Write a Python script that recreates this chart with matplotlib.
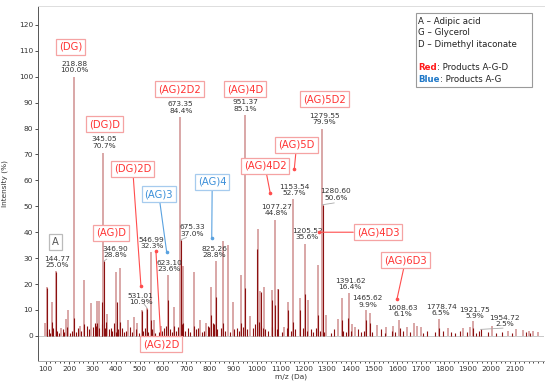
import matplotlib
matplotlib.use("Agg")
import matplotlib.pyplot as plt
from matplotlib.patches import Rectangle

# light (tall) peaks: m/z, intensity (%)
light_mz = [98, 107, 125, 144.77, 165, 185, 196, 218.88, 245, 265,
            292, 320, 327, 345.05, 360, 398, 418, 450, 476, 490,
            509, 531.01, 546.99, 560, 590, 623.10, 647, 673.35, 687, 732,
            757, 784, 803, 825.26, 857, 876, 897, 933, 951.37, 970,
            1004, 1014, 1030, 1064, 1077.27, 1092, 1117, 1135, 1153.54, 1184,
            1205.52, 1220, 1262, 1279.55, 1295, 1348, 1362, 1391.62, 1407, 1420,
            1465.62, 1483, 1511, 1550, 1580, 1608.63, 1640, 1670, 1683, 1700,
            1778.74, 1815, 1880, 1909, 1921.75, 2002, 2070, 2105, 2135, 2160,
            2180, 2200]
light_int = [5.1, 18.7, 13.2, 25.0, 3.0, 6.5, 10.0, 100.0, 4.0, 21.5,
             12.8, 13.5, 13.5, 70.7, 8.5, 24.7, 26.0, 6.0, 7.3, 5.0,
             10.0, 10.9, 32.3, 6.0, 4.0, 23.6, 11.0, 84.4, 27.0, 24.8,
             6.0, 5.0, 18.8, 28.8, 36.8, 35.1, 12.9, 23.3, 85.1, 7.5,
             41.3, 17.3, 19.0, 17.7, 44.8, 18.2, 3.5, 13.2, 52.7, 14.5,
             35.6, 13.9, 27.3, 79.9, 8.0, 6.7, 14.5, 16.4, 4.5, 3.5,
             9.9, 9.0, 4.3, 3.5, 3.8, 6.1, 3.5, 5.0, 4.0, 3.5,
             6.5, 3.0, 3.0, 3.6, 5.9, 4.0, 2.0, 2.5, 2.2, 2.0,
             1.8, 1.5]

# dark peaks
dark_mz = [107, 125, 144.77, 218.88, 265, 320, 338, 346.90, 391, 403,
           418, 509, 531.01, 547, 623, 647, 675.33, 687, 732, 803,
           825, 857, 933, 951.37, 1001, 1019, 1064, 1077, 1092, 1135,
           1153.54, 1184, 1205, 1262, 1280.60, 1362, 1391, 1466, 1483, 1609,
           1779, 1922, 1954.72]
dark_int = [18.3, 5.5, 24.5, 7.0, 4.5, 5.0, 13.0, 28.8, 5.0, 13.0,
            5.5, 9.5, 10.5, 6.0, 14.0, 4.0, 37.0, 5.0, 4.0, 8.0,
            15.0, 5.0, 5.0, 18.5, 33.5, 17.0, 14.0, 12.0, 18.0, 10.0,
            5.5, 10.0, 16.0, 8.0, 50.6, 6.0, 7.0, 6.0, 5.0, 3.0,
            3.0, 3.0, 2.5]

# small peaks near the baseline
grass_mz = [104, 112, 118, 131, 150, 158, 172, 179, 190, 204,
            211, 228, 236, 251, 276, 284, 300, 308, 314, 326,
            338, 352, 357, 368, 377, 384, 399, 407, 426, 434,
            441, 458, 466, 483, 497, 515, 522, 538, 555, 568,
            583, 596, 605, 612, 631, 639, 655, 663, 680, 695,
            705, 716, 741, 749, 766, 775, 793, 798, 815, 818,
            832, 848, 866, 884, 905, 915, 926, 941, 958, 985,
            994, 1010, 1018, 1025, 1033, 1047, 1066, 1085, 1108, 1129,
            1145, 1163, 1196, 1213, 1232, 1240, 1253, 1270, 1288, 1315,
            1330, 1368, 1380, 1400, 1432, 1446, 1458, 1492, 1530, 1545,
            1575, 1590, 1625, 1652, 1710, 1725, 1760, 1795, 1830, 1845,
            1865, 1895, 1935, 1948, 1985, 2020, 2045, 2090, 2150, 2165]
grass_int = [1.5, 2.5, 1.0, 3.0, 2.0, 1.0, 2.5, 1.5, 3.5, 1.0,
             2.0, 1.5, 3.0, 2.0, 4.0, 2.5, 3.5, 5.0, 4.0, 3.0,
             4.5, 3.0, 5.5, 2.5, 3.0, 2.0, 1.5, 2.5, 3.0, 1.5,
             2.0, 3.5, 1.5, 2.5, 1.0, 2.0, 3.0, 1.5, 2.5, 1.0,
             1.5, 2.0, 3.0, 4.0, 2.5, 1.5, 2.0, 3.5, 4.5, 2.0,
             3.0, 1.5, 2.5, 3.0, 1.5, 2.0, 4.0, 3.5, 5.0, 4.5,
             2.5, 3.0, 2.0, 1.5, 2.5, 3.0, 2.0, 3.5, 2.5, 3.0,
             4.5, 5.5, 4.0, 3.0, 2.5, 2.0, 3.5, 2.5, 1.5, 3.0,
             2.0, 2.5, 3.0, 2.0, 2.5, 1.5, 3.0, 2.0, 1.5, 1.0,
             2.5, 2.0, 1.5, 2.0, 2.5, 1.5, 2.0, 1.5, 2.5, 1.0,
             2.0, 1.5, 2.0, 1.5, 1.0, 2.0, 1.5, 2.0, 1.5, 1.0,
             2.0, 1.5, 1.0, 2.0, 1.5, 1.0, 1.5, 1.0, 1.5, 1.0]

# peak value labels: m/z, percent, label centre x, label centre y
lab_mz = ["218.88", "345.05", "673.35", "951.37", "1279.55", "1153.54", "1077.27",
          "1205.52", "1391.62", "1465.62", "1608.63", "1778.74", "1921.75",
          "144.77", "346.90", "546.99", "623.10", "675.33", "825.26", "531.01",
          "1280.60", "1954.72"]
lab_pct = ["100.0%", "70.7%", "84.4%", "85.1%", "79.9%", "52.7%", "44.8%",
           "35.6%", "16.4%", "9.9%", "6.1%", "6.5%", "5.9%",
           "25.0%", "28.8%", "32.3%", "23.6%", "37.0%", "28.8%", "10.9%",
           "50.6%", "2.5%"]
lab_x = [224, 349, 676, 953, 1288, 1159, 1085,
         1216, 1398, 1473, 1623, 1786, 1929,
         150, 395, 552, 627, 724, 819, 505,
         1338, 2058]
lab_y = [103.8, 74.6, 88.1, 88.9, 83.6, 56.4, 48.5,
         39.2, 20.1, 13.3, 9.6, 10.1, 8.9,
         28.6, 32.3, 35.9, 27.1, 40.7, 32.3, 14.2,
         54.6, 5.8]

# product boxes: text, colour group, box centre, arrow end (None = no arrow)
box_txt = ["(DG)", "(DG)D", "(DG)2D", "(AG)2D2", "(AG)4D", "(AG)3", "(AG)4",
           "(AG)4D2", "(AG)5D", "(AG)5D2", "(AG)4D3", "(AG)6D3", "(AG)D",
           "(AG)2D", "A"]
box_grp = ["r", "r", "r", "r", "r", "b", "b", "r", "r", "r", "r", "r", "r", "r", "g"]
box_x = [207, 351, 471, 672, 951, 582, 810, 1035, 1170, 1288, 1517, 1634, 377, 592, 143]
box_y = [111.6, 81.7, 64.4, 95.2, 95.2, 54.7, 59.4, 65.6, 73.7, 91.3, 40.0, 29.1, 39.8, -3.3, 36.1]
arr_x = [None, None, 506, None, None, 616, 808, 1057, 1160, None, 1265, 1598, None, 570, None]
arr_y = [None, None, 19.3, None, None, 32.2, 37.9, 55.3, 64.4, None, 40.0, 14.2, None, 32.7, None]

txt_col = {"r": "#ff3333", "b": "#3b8fd9", "g": "#555555"}
edge_col = {"r": "#f5a3a3", "b": "#a6cbee", "g": "#bbbbbb"}
line_col = {"r": "#ff4d4d", "b": "#5aa2e0", "g": "#999999"}

fig = plt.figure(figsize=(5.5, 3.85), dpi=100)
ax = fig.add_axes([38 / 550, 1 - 361 / 385, 506 / 550, 355 / 385])

ax.axhline(0, color="#c8c8c8", lw=0.7, zorder=0)
ax.vlines(grass_mz, 0, grass_int, color="#8b1010", lw=0.8, zorder=2)
ax.vlines(light_mz, 0, light_int, color="#b04545", lw=1.1, alpha=0.6, zorder=1)
ax.vlines(dark_mz, 0, dark_int, color="#8b1010", lw=0.8, zorder=2)

for m, p, x, y in zip(lab_mz, lab_pct, lab_x, lab_y):
    ax.text(x, y, m + "\n" + p, ha="center", va="center", fontsize=5.3,
            color="#333333", linespacing=1.05, zorder=4)

# grey leader lines under a few labels
for x1, y1, x2, y2 in [(347, 28.8, 360, 29.6), (531, 10.9, 520, 12.2),
                       (675.3, 37.0, 700, 38.0), (1280.6, 50.6, 1330, 51.3),
                       (1954.7, 2.5, 2050, 3.0)]:
    ax.plot([x1, x2], [y1, y2], color="#aaaaaa", lw=0.6, zorder=3)

for t, g, bx, by, axx, ayy in zip(box_txt, box_grp, box_x, box_y, arr_x, arr_y):
    bbox = dict(boxstyle="square,pad=0.3", fc="white", ec=edge_col[g], lw=0.9)
    if axx is None:
        ax.text(bx, by, t, ha="center", va="center", fontsize=7.2, color=txt_col[g],
                bbox=bbox, zorder=5)
    else:
        ax.annotate(t, xy=(axx, ayy), xytext=(bx, by), ha="center", va="center",
                    fontsize=7.2, color=txt_col[g], bbox=bbox, zorder=5,
                    arrowprops=dict(arrowstyle="-", color=line_col[g], lw=0.8,
                                    shrinkA=0, shrinkB=0))
        ax.plot(axx, ayy, "o", ms=1.6, color=line_col[g], zorder=5)

# legend box
ax.add_patch(Rectangle((0.7465, 0.771), 0.2304, 0.2084, transform=ax.transAxes,
                       fc="white", ec="#9a9a9a", lw=0.8, zorder=5))
leg_kw = dict(transform=ax.transAxes, fontsize=6.2, va="center", zorder=6,
              color="#222222")
ax.text(0.7516, 0.9577, "A \u2013 Adipic acid", **leg_kw)
ax.text(0.7516, 0.9248, "G \u2013 Glycerol", **leg_kw)
ax.text(0.7516, 0.8921, "D \u2013 Dimethyl itaconate", **leg_kw)
t_red = ax.text(0.7516, 0.8262, "Red", transform=ax.transAxes, fontsize=6.2,
                va="center", color="#ff1a1a", fontweight="bold", zorder=6)
ax.annotate(": Products A-G-D", xy=(1, 0.5), xycoords=t_red, va="center",
            fontsize=6.2, color="#222222", zorder=6)
t_blue = ax.text(0.7516, 0.7935, "Blue", transform=ax.transAxes, fontsize=6.2,
                 va="center", color="#1f78c8", fontweight="bold", zorder=6)
ax.annotate(": Products A-G", xy=(1, 0.5), xycoords=t_blue, va="center",
            fontsize=6.2, color="#222222", zorder=6)

ax.set_xlim(67, 2225)
ax.set_ylim(-9.7, 127.3)
ax.set_xticks(range(100, 2200, 100))
ax.set_xticks(range(100, 2221, 20), minor=True)
ax.set_yticks(range(0, 130, 10))
ax.tick_params(labelsize=5.3, length=2, width=0.6, colors="#333333", pad=1.5)
ax.tick_params(which="minor", length=1.2, width=0.5)
ax.spines["right"].set_visible(False)
ax.spines["top"].set_color("#dddddd")
ax.spines["bottom"].set_color("#aaaaaa")
ax.spines["left"].set_color("#555555")
for s in ax.spines.values():
    s.set_linewidth(0.7)
ax.set_xlabel("m/z (Da)", fontsize=5.3, color="#333333", labelpad=1)
ax.set_ylabel("Intensity (%)", fontsize=5.3, color="#333333", labelpad=8)

fig.savefig("out.png", dpi=100)
